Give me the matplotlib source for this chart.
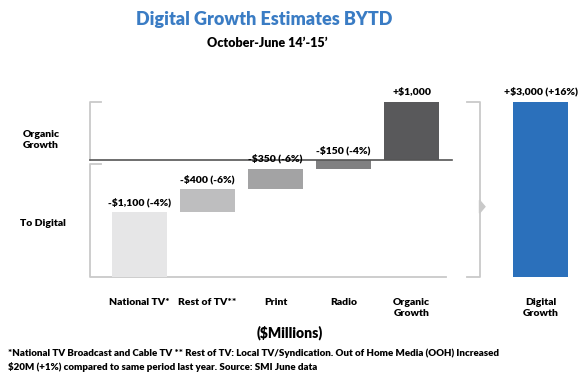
import matplotlib
matplotlib.use("Agg")
import matplotlib.pyplot as plt
from matplotlib.patches import Polygon

plt.rcParams['font.family'] = ['Lato', 'DejaVu Sans']

categories = ["National TV*", "Rest of TV**", "Print", "Radio", "Organic\nGrowth"]
values = [-1100, -400, -350, -150, 1000]
pcts = ["-4%", "-6%", "-6%", "-4%", None]
total_label = "Digital\nGrowth"
total_value = 3000
total_pct = "+16%"
bar_colors = ["#e6e6e7", "#bebebf", "#a3a3a4", "#808081", "#59595b"]
total_color = "#2b70bb"

W, H = 579, 390
fig = plt.figure(figsize=(W / 100, H / 100), dpi=100)
ax = fig.add_axes([0, 0, 1, 1])
ax.set_xlim(-2.051, 6.463)
ax.set_ylim(-3943, 2743)
ax.axis('off')

WT = 'heavy'

def fmt(v):
    s = "+" if v > 0 else "-"
    return f"{s}${abs(v):,}"

x_pos = [0, 1, 2, 3, 4]
x_total = 5.9
width = 0.81

level = sum(v for v in values if v < 0)
start = level
for x, v, p, c in zip(x_pos, values, pcts, bar_colors):
    ax.bar(x, abs(v), bottom=level, width=width, color=c, zorder=2)
    top = level + abs(v)
    lab = fmt(v) + (f" ({p})" if p else "")
    ax.annotate(lab, (x, top), xytext=(0, 3.5), textcoords='offset points',
                ha='center', va='bottom', fontsize=7.5, fontweight=WT, zorder=4)
    level = top
end = level
ax.bar(x_total, total_value, bottom=start, width=width, color=total_color, zorder=2)
ax.annotate(f"{fmt(total_value)} ({total_pct})", (x_total, start + total_value),
            xytext=(0, 4), textcoords='offset points', ha='center', va='bottom',
            fontsize=7.5, fontweight=WT)

# category labels
for x, c in zip(x_pos + [x_total], categories + [total_label]):
    ax.text(x, start - 370, c, ha='center', va='top', fontsize=7.5,
            fontweight=WT, linespacing=1.3)

# guide lines
lc = "#c9c9c9"
xl = -0.73
ax.plot([xl, 4.6], [0, 0], color="#555555", lw=1.2, zorder=3)
# upper bracket
ax.plot([xl + 0.16, xl, xl], [end, end, 0], color=lc, lw=1.3, zorder=1)
# lower bracket
ax.plot([xl + 0.16, xl, xl, 4.5], [-60, -60, start, start], color=lc, lw=1.3, zorder=1)
# right bracket
xr = 5.0
ax.plot([xr - 0.18, xr, xr, xr - 0.18], [end, end, start, start], color=lc, lw=1.3, zorder=1)
mid = start + (end - start) * 0.4
ax.add_patch(Polygon([[xr, mid + 110], [xr, mid - 110], [xr + 0.08, mid]],
                     closed=True, color=lc, zorder=1))

def fx(px):
    return px / W

def fy(py):
    return 1 - py / H

fig.text(fx(23), fy(140), "Organic\nGrowth", ha='left', va='center', fontsize=7.5,
         fontweight=WT, linespacing=1.25)
fig.text(fx(20), fy(223), "To Digital", ha='left', va='center', fontsize=7.5,
         fontweight=WT)

fig.text(fx(264), fy(20), "Digital Growth Estimates BYTD", ha='center', va='center',
         fontsize=13, fontweight=WT, color="#3a7cc4")
fig.text(fx(267), fy(43), "October-June 14\u2019-15\u2019", ha='center', va='center',
         fontsize=9, fontweight=WT)
fig.text(fx(290), fy(333), "($Millions)", ha='center', va='center', fontsize=10,
         fontweight=WT)
fig.text(fx(8), fy(360),
         "*National TV Broadcast and Cable TV ** Rest of TV: Local TV/Syndication. Out of Home Media (OOH) Increased\n"
         "$20M (+1%) compared to same period last year. Source: SMI June data",
         ha='left', va='center', fontsize=7, fontweight=WT, linespacing=1.45)

fig.savefig("out.png", dpi=100)
